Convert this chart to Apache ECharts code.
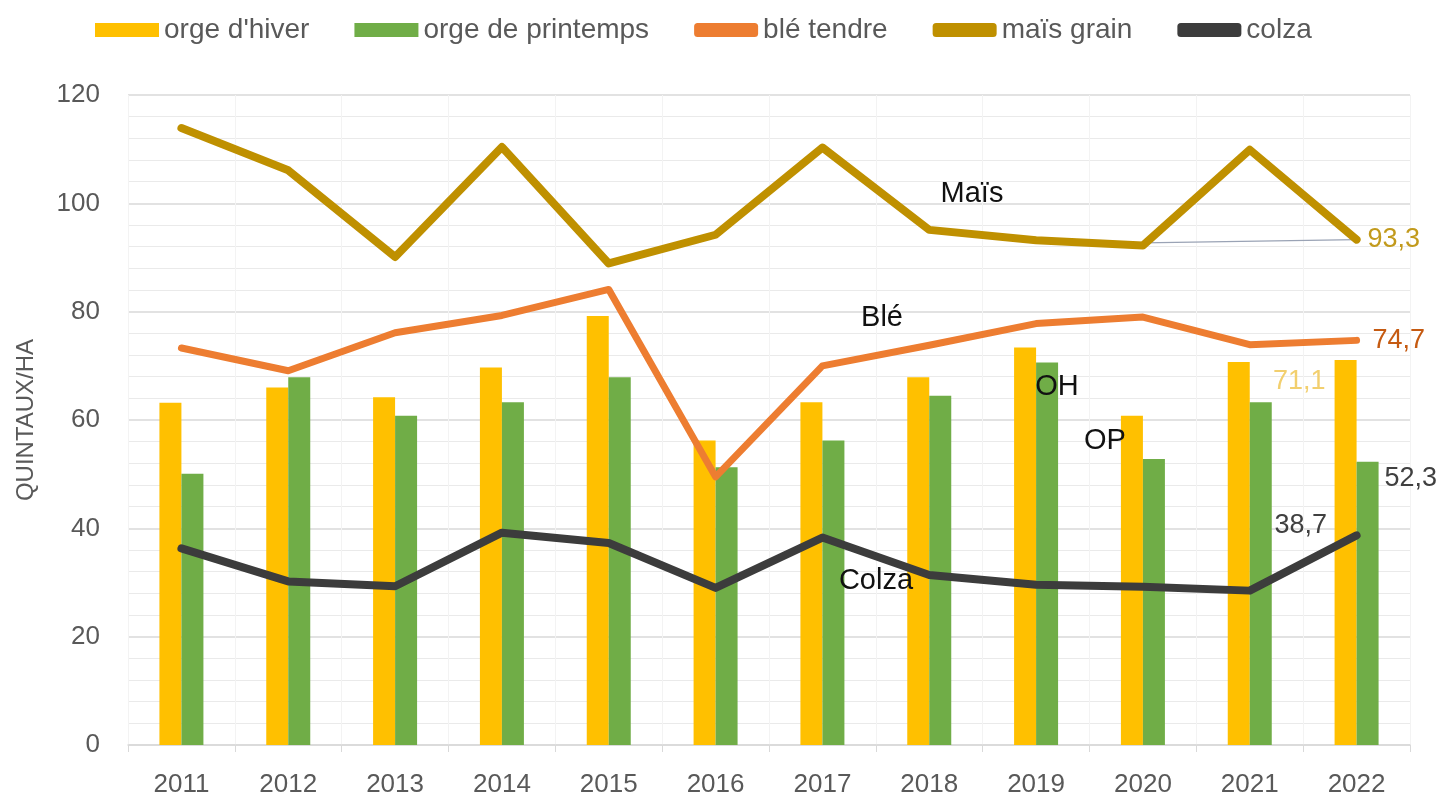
<!DOCTYPE html>
<html>
<head>
<meta charset="utf-8">
<script src="https://cdn.jsdelivr.net/npm/echarts@6/dist/echarts.min.js"></script>
<style>
html,body{margin:0;padding:0;background:#fff;}
#chart{width:1438px;height:798px;}
</style>
</head>
<body>
<div id="chart"></div>
<script>
const years = ['2011','2012','2013','2014','2015','2016','2017','2018','2019','2020','2021','2022'];
const orgeHiver = [63.2, 66.0, 64.2, 69.7, 79.2, 56.2, 63.3, 67.9, 73.4, 60.8, 70.7, 71.1];
const orgePrintemps = [50.1, 67.9, 60.8, 63.3, 67.9, 51.3, 56.2, 64.5, 70.6, 52.8, 63.3, 52.3];
const bleTendre = [73.3, 69.1, 76.1, 79.3, 84.1, 49.5, 70.0, 73.8, 77.8, 79.0, 73.9, 74.7];
const maisGrain = [113.9, 106.1, 90.1, 110.4, 88.9, 94.2, 110.3, 95.1, 93.2, 92.2, 109.9, 93.3];
const colza = [36.3, 30.2, 29.3, 39.2, 37.3, 29.0, 38.3, 31.4, 29.6, 29.2, 28.5, 38.7];
const tendanceMais = [null, null, null, null, null, null, null, null, null, 92.7, null, 93.3];
const yTicks = [0, 20, 40, 60, 80, 100, 120];
const annotations = [
  {text: 'Maïs', x: 972, y: 194},
  {text: 'Blé', x: 882, y: 318},
  {text: 'OH', x: 1057, y: 387},
  {text: 'OP', x: 1105, y: 441},
  {text: 'Colza', x: 876, y: 581}
];

const FONT = '"Liberation Sans", Arial, sans-serif';
const fmt = v => String(v).replace('.', ',');
const last = years.length - 1;

function withLastLabel(arr, label) {
  return arr.map((v, i) => i === last ? {value: v, label: Object.assign({show: true, formatter: p => fmt(p.value), fontFamily: FONT, fontSize: 27}, label)} : v);
}

const chart = echarts.init(document.getElementById('chart'), null, {renderer: 'canvas'});
const option = {
  animation: false,
  backgroundColor: '#ffffff',
  textStyle: {fontFamily: FONT},
  legend: {
    left: 90, top: 11,
    itemWidth: 64, itemHeight: 14, itemGap: 45,
    textStyle: {fontSize: 28, color: '#595959', fontFamily: FONT},
    data: [
      {name: "orge d'hiver", icon: 'rect'},
      {name: 'orge de printemps', icon: 'rect'},
      {name: 'blé tendre', icon: 'roundRect'},
      {name: 'maïs grain', icon: 'roundRect'},
      {name: 'colza', icon: 'roundRect'}
    ]
  },
  grid: {left: 128, right: 28, top: 95, bottom: 51, containLabel: false},
  xAxis: {
    type: 'category',
    data: years,
    boundaryGap: true,
    axisLine: {lineStyle: {color: '#D9D9D9', width: 1.5}},
    axisTick: {show: true, length: 7, lineStyle: {color: '#D9D9D9'}},
    axisLabel: {fontSize: 26, color: '#595959', margin: 27, fontFamily: FONT},
    splitLine: {show: true, lineStyle: {color: '#F3F3F3', width: 1}}
  },
  yAxis: {
    type: 'value',
    min: yTicks[0], max: yTicks[yTicks.length - 1], interval: 20,
    name: 'QUINTAUX/HA',
    nameLocation: 'middle',
    nameGap: 90,
    nameTextStyle: {fontSize: 24, color: '#595959', fontFamily: FONT},
    axisLine: {show: false},
    axisTick: {show: false},
    axisLabel: {fontSize: 26, color: '#595959', margin: 28, fontFamily: FONT},
    splitLine: {lineStyle: {color: '#D9D9D9', width: 1.5}},
    minorTick: {show: false, splitNumber: 5},
    minorSplitLine: {show: true, lineStyle: {color: '#EAEAEA', width: 1}}
  },
  series: [
    {
      name: "orge d'hiver", type: 'bar', barWidth: 22, barGap: '0%',
      itemStyle: {color: '#FFC000'},
      data: withLastLabel(orgeHiver, {position: [-9, 22], align: 'right', verticalAlign: 'middle', color: '#F2CF6E'})
    },
    {
      name: 'orge de printemps', type: 'bar', barWidth: 22, barGap: '0%',
      itemStyle: {color: '#70AD47'},
      data: withLastLabel(orgePrintemps, {position: [28, 17], align: 'left', verticalAlign: 'middle', color: '#404040'})
    },
    {
      name: 'tendance', type: 'line', data: tendanceMais, connectNulls: true,
      symbol: 'none', lineStyle: {color: '#9AA3B5', width: 1.5}, z: 3, silent: true
    },
    {
      name: 'blé tendre', type: 'line', data: bleTendre, symbol: 'none',
      lineStyle: {color: '#ED7D31', width: 7, cap: 'round', join: 'round'},
      itemStyle: {color: '#ED7D31'}, z: 4,
      endLabel: {show: true, formatter: p => fmt(p.value), color: '#C55A11', fontSize: 27, distance: 16, fontFamily: FONT}
    },
    {
      name: 'maïs grain', type: 'line', data: maisGrain, symbol: 'none',
      lineStyle: {color: '#BF9000', width: 8, cap: 'round', join: 'round'},
      itemStyle: {color: '#BF9000'}, z: 4,
      endLabel: {show: true, formatter: p => fmt(p.value), color: '#C29A1C', fontSize: 27, distance: 11, fontFamily: FONT}
    },
    {
      name: 'colza', type: 'line', data: colza, symbol: 'none',
      lineStyle: {color: '#3C3C3C', width: 8, cap: 'round', join: 'round'},
      itemStyle: {color: '#3C3C3C'}, z: 4,
      endLabel: {show: true, formatter: p => fmt(p.value), color: '#404040', fontSize: 27, distance: 5, offset: [-87, -10], fontFamily: FONT}
    }
  ],
  graphic: annotations.map(a => ({
    type: 'text', x: a.x, y: a.y, z: 100,
    style: {text: a.text, fontSize: 29, fill: '#111111', fontFamily: FONT, align: 'center', verticalAlign: 'middle'}
  }))
};
chart.setOption(option);
</script>
</body>
</html>
